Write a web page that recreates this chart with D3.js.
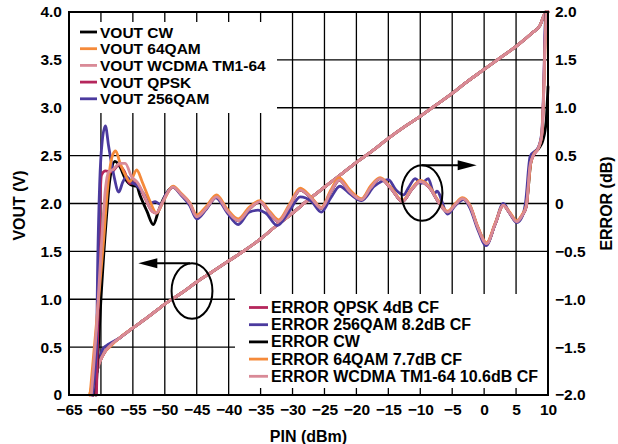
<!DOCTYPE html>
<html>
<head>
<meta charset="utf-8">
<script src="https://cdn.jsdelivr.net/npm/d3@7"></script>
<style>
  html, body { margin: 0; padding: 0; background: #fff; }
  svg { display: block; }
  text { font-family: "Liberation Sans", Arial, sans-serif; font-weight: bold; fill: #000; }
</style>
</head>
<body>
<svg id="chart" width="618" height="444"></svg>
<script>
// ---- Axis ticks ----
const xTicks = [-65, -60, -55, -50, -45, -40, -35, -30, -25, -20, -15, -10, -5, 0, 5, 10];
const voutTicks = [0, 0.5, 1.0, 1.5, 2.0, 2.5, 3.0, 3.5, 4.0];
const errTicks = [-2.0, -1.5, -1.0, -0.5, 0, 0.5, 1.0, 1.5, 2.0];

// ---- VOUT (V) vs PIN (dBm) ----
const voutCommon = [[-57, 0.60], [-55, 0.70], [-52.5, 0.82], [-50, 0.95], [-47.5, 1.06], [-45, 1.18],
  [-42.5, 1.29], [-40, 1.40], [-37.5, 1.51], [-35, 1.63], [-32.5, 1.77], [-30, 1.90], [-27.5, 2.04],
  [-25, 2.17], [-22.5, 2.30], [-20, 2.43], [-17.5, 2.55], [-15, 2.68], [-12.5, 2.80], [-10, 2.91],
  [-7.5, 3.03], [-5, 3.15], [-2.5, 3.28], [0, 3.40], [2.5, 3.52], [5, 3.64], [7.5, 3.78],
  [8.75, 3.86], [9.5, 3.98], [10, 4.0]];
const voutCW = [[-61.2, 0], [-60.6, 0.25], [-60.1, 0.36], [-59.3, 0.46], [-58.5, 0.52]].concat(voutCommon);
const voutQPSK = [[-61.2, 0], [-60.6, 0.26], [-60.1, 0.36], [-59.3, 0.46], [-58.5, 0.52]].concat(voutCommon);
const vout256QAM = [[-61.3, 0], [-60.6, 0.25], [-60.2, 0.38], [-59.6, 0.49], [-58.8, 0.53]].concat(voutCommon);
const vout64QAM = [[-61.8, 0], [-61.0, 0.20], [-60.3, 0.33], [-59.5, 0.44], [-58.5, 0.51]].concat(voutCommon);
const voutWCDMA = [[-61.5, 0], [-60.9, 0.18], [-60.2, 0.34], [-59.4, 0.45], [-58.5, 0.52]].concat(voutCommon);

// ---- ERROR (dB) vs PIN (dBm) ----
const errCommon = [[-46.1, 0.00], [-45.0, -0.14], [-43.5, -0.05], [-41.9, 0.07], [-40.2, -0.08],
  [-38.5, -0.18], [-36.8, -0.06], [-35.1, 0.02], [-33.6, -0.10], [-32.2, -0.19], [-30.5, -0.03],
  [-28.8, 0.14], [-27.0, 0.05], [-25.5, -0.05], [-24.0, 0.12], [-22.7, 0.245], [-21.0, 0.12],
  [-19.2, 0.04], [-17.8, 0.16], [-16.3, 0.26], [-14.5, 0.15], [-12.8, 0.02], [-11.3, 0.15],
  [-10.0, 0.23], [-8.5, 0.16], [-7.2, 0.02], [-5.7, -0.09], [-4.5, -0.01], [-3.4, 0.05],
  [-2.2, -0.03], [-1.0, -0.25], [0.4, -0.42], [1.7, -0.22], [3.0, -0.02], [4.0, -0.10],
  [5.1, -0.19], [6.0, -0.12], [6.6, -0.03]];
const errCW = [[-60.8, -2.0], [-60.0, -1.0], [-59.2, -0.2], [-58.6, 0.25], [-57.8, 0.44], [-57.0, 0.38],
  [-56.2, 0.26], [-55.2, 0.19], [-54.4, 0.18], [-53.9, 0.09], [-52.8, -0.08], [-51.8, -0.22],
  [-51.0, -0.08], [-50.2, 0.05], [-48.7, 0.17], [-47.5, 0.10]]
  .concat(errCommon, [[7.3, 0.42], [7.8, 0.52], [8.6, 0.58], [9.2, 0.66], [9.7, 0.85], [10.0, 1.22]]);
const errQPSK = [[-60.7, -2.0], [-60.4, -1.0], [-60.15, 0.0], [-59.9, 0.30], [-59.3, 0.34], [-58.4, 0.33],
  [-57.2, 0.40], [-56.3, 0.33], [-55.5, 0.21], [-54.5, 0.22], [-53.2, 0.07], [-52.0, -0.08],
  [-51.3, -0.10], [-50.3, 0.02], [-49.5, 0.12], [-48.7, 0.17], [-47.5, 0.10]]
  .concat(errCommon, [[7.2, 0.40], [7.7, 0.50], [8.5, 0.58], [9.0, 0.70], [9.3, 1.1], [9.5, 1.7], [9.7, 2.0]]);
const err256QAM = [[-61.4, -2.0], [-60.7, -1.5], [-60.5, -0.6], [-60.2, 0.2], [-59.8, 0.65], [-59.3, 0.81],
  [-58.8, 0.60], [-58.0, 0.30], [-57.2, 0.12], [-56.6, 0.22], [-56.0, 0.28], [-55.2, 0.22], [-54.4, 0.19],
  [-53.3, 0.10], [-52.3, 0.00], [-51.5, 0.02], [-50.7, -0.01], [-49.8, 0.10], [-48.7, 0.17], [-47.5, 0.09],
  [-46.1, -0.02], [-45.0, -0.16], [-43.5, -0.06], [-42.0, 0.06], [-40.2, -0.10], [-38.5, -0.22],
  [-36.8, -0.09], [-35.4, -0.07], [-34.2, -0.10], [-32.4, -0.23], [-30.5, -0.08], [-28.8, 0.07],
  [-27.0, 0.02], [-25.5, -0.09], [-24.0, 0.06], [-22.6, 0.18], [-21.0, 0.10], [-19.2, 0.03],
  [-17.2, 0.18], [-15.0, 0.25], [-13.8, 0.14], [-12.6, 0.09], [-11.8, 0.17], [-10.8, 0.26],
  [-9.8, 0.21], [-8.75, 0.26], [-7.8, 0.10], [-7.4, 0.13], [-5.7, -0.11], [-4.5, -0.02], [-3.2, 0.04],
  [-2.2, -0.05], [-1.0, -0.27], [0.3, -0.44], [1.7, -0.22], [3.0, 0.00], [4.0, -0.10], [5.1, -0.20],
  [6.0, -0.13], [6.5, 0.02], [7.2, 0.49], [8.5, 0.59], [9.0, 0.73], [9.4, 1.4], [9.6, 2.0]];
const err64QAM = [[-61.7, -2.0], [-60.5, -1.1], [-59.6, -0.4], [-58.9, 0.2], [-58.2, 0.5], [-57.7, 0.55],
  [-57.0, 0.42], [-56.2, 0.30], [-55.45, 0.23], [-54.4, 0.35], [-53.5, 0.22], [-52.3, 0.02],
  [-51.3, -0.10], [-50.2, 0.03], [-48.7, 0.18], [-47.5, 0.11], [-46.1, 0.01], [-45.0, -0.12],
  [-43.5, -0.03], [-41.9, 0.09], [-40.2, -0.06], [-38.5, -0.16], [-36.8, -0.04], [-35.1, 0.03],
  [-33.6, -0.08], [-32.2, -0.17], [-30.5, -0.01], [-28.8, 0.16], [-27.0, 0.06], [-25.5, -0.04],
  [-24.0, 0.14], [-22.7, 0.27], [-21.0, 0.14], [-19.2, 0.05], [-17.8, 0.18], [-16.3, 0.27],
  [-14.5, 0.16], [-12.8, 0.03], [-11.3, 0.16], [-10.0, 0.24], [-8.5, 0.17], [-7.2, 0.03],
  [-5.7, -0.08], [-4.5, 0.00], [-3.4, 0.06], [-2.2, -0.02], [-1.0, -0.24], [0.4, -0.41],
  [1.7, -0.21], [3.0, -0.02], [4.0, -0.09], [5.1, -0.18], [6.0, -0.11], [6.6, -0.02], [7.3, 0.42],
  [7.8, 0.52], [8.5, 0.58], [9.0, 0.70], [9.4, 1.3], [9.7, 2.0]];
const errWCDMA = [[-61.5, -2.0], [-60.6, -1.2], [-59.9, -0.4], [-59.3, 0.15], [-58.8, 0.33], [-58.0, 0.36],
  [-57.1, 0.42], [-56.2, 0.42], [-55.2, 0.28], [-54.3, 0.22], [-53.2, 0.08], [-52.2, -0.06],
  [-51.4, -0.10], [-50.3, 0.02], [-49.5, 0.12], [-48.7, 0.17], [-47.5, 0.10]]
  .concat(errCommon, [[7.2, 0.40], [7.7, 0.50], [8.5, 0.58], [9.0, 0.70], [9.3, 1.1], [9.55, 1.7], [9.8, 2.0]]);

const colors = { cw: "#000000", qam64: "#f58a3a", wcdma: "#d98a97", qpsk: "#b5265c", qam256: "#4b3a9e" };

const voutLegend = [
  { label: "VOUT CW", color: colors.cw },
  { label: "VOUT 64QAM", color: colors.qam64 },
  { label: "VOUT WCDMA TM1-64", color: colors.wcdma },
  { label: "VOUT QPSK", color: colors.qpsk },
  { label: "VOUT 256QAM", color: colors.qam256 }
];
const errLegend = [
  { label: "ERROR QPSK 4dB CF", color: colors.qpsk },
  { label: "ERROR 256QAM 8.2dB CF", color: colors.qam256 },
  { label: "ERROR CW", color: colors.cw },
  { label: "ERROR 64QAM 7.7dB CF", color: colors.qam64 },
  { label: "ERROR WCDMA TM1-64 10.6dB CF", color: colors.wcdma }
];

// ---- Layout ----
const W = 618, H = 444;
const plotL = 69, plotR = 548, plotT = 12, plotB = 395;

const svg = d3.select("#chart");
svg.append("rect").attr("width", W).attr("height", H).attr("fill", "#fff");

const x = d3.scaleLinear().domain([-65, 10]).range([plotL, plotR]);
const yV = d3.scaleLinear().domain([0, 4]).range([plotB, plotT]);
const yE = d3.scaleLinear().domain([-2, 2]).range([plotB, plotT]);

// grid
const grid = svg.append("g").attr("stroke", "#000").attr("stroke-width", 1.3);
grid.selectAll("line.v").data(xTicks.slice(1, -1)).join("line").attr("class", "v")
  .attr("x1", d => x(d)).attr("x2", d => x(d)).attr("y1", plotT).attr("y2", plotB);
grid.selectAll("line.h").data(voutTicks.slice(1, -1)).join("line").attr("class", "h")
  .attr("y1", d => yV(d)).attr("y2", d => yV(d)).attr("x1", plotL).attr("x2", plotR);

// legend panels (white, over the grid)
const legTop = { x0: plotL + 1, y0: 22, x1: 277, y1: 113 };
const legBot = { x0: 235, y0: 294, x1: plotR - 1, y1: 388 };
[legTop, legBot].forEach(b => svg.append("rect")
  .attr("x", b.x0).attr("y", b.y0).attr("width", b.x1 - b.x0).attr("height", b.y1 - b.y0)
  .attr("fill", "#fff"));

// curves
const lineV = d3.line().x(d => x(d[0])).y(d => yV(d[1])).curve(d3.curveMonotoneX);
const lineE = d3.line().x(d => x(d[0])).y(d => yE(d[1])).curve(d3.curveMonotoneX);
const plot = svg.append("g").attr("fill", "none").attr("stroke-width", 2.8)
  .attr("stroke-linejoin", "round").attr("stroke-linecap", "round");

const voutSeries = [[voutCW, colors.cw], [voutQPSK, colors.qpsk], [vout256QAM, colors.qam256],
  [vout64QAM, colors.qam64], [voutWCDMA, colors.wcdma]];
const errSeries = [[errCW, colors.cw], [errQPSK, colors.qpsk], [err256QAM, colors.qam256],
  [err64QAM, colors.qam64], [errWCDMA, colors.wcdma]];
voutSeries.forEach(([d, c]) => plot.append("path").attr("d", lineV(d)).attr("stroke", c));
errSeries.forEach(([d, c]) => plot.append("path").attr("d", lineE(d)).attr("stroke", c));

// annotations: ellipses with arrows pointing to the relevant axis
const ann = svg.append("g").attr("stroke", "#000").attr("stroke-width", 2).attr("fill", "none");
function ellipse(cxv, cyv, rxv, ryv, yScale) {
  ann.append("ellipse").attr("cx", x(cxv)).attr("cy", yScale(cyv))
    .attr("rx", x(cxv + rxv) - x(cxv)).attr("ry", yScale(cyv) - yScale(cyv + ryv));
}
function arrow(x0, x1, yv, yScale) {
  const px0 = x(x0), px1 = x(x1), py = yScale(yv), dir = Math.sign(px1 - px0);
  ann.append("line").attr("x1", px0).attr("y1", py).attr("x2", px1 - dir * 16).attr("y2", py);
  svg.append("path").attr("fill", "#000")
    .attr("d", `M${px1},${py}L${px1 - dir * 19},${py - 5}L${px1 - dir * 19},${py + 5}Z`);
}
ellipse(-45.74, 1.086, 3.2, 0.29, yV);
arrow(-46.06, -54.15, 1.375, yV);
ellipse(-9.73, 0.11, 3.2, 0.29, yE);
arrow(-9.78, -1.17, 0.40, yE);

// frame
svg.append("rect").attr("x", plotL).attr("y", plotT).attr("width", plotR - plotL).attr("height", plotB - plotT)
  .attr("fill", "none").attr("stroke", "#000").attr("stroke-width", 2);

// axes
const fmtY = d => d === 0 ? "0" : d3.format(".1f")(d);
const styleAxis = g => {
  g.select(".domain").remove();
  g.selectAll("text").style("font-size", "15.5px").style("font-weight", "bold")
    .style("font-family", "'Liberation Sans', Arial, sans-serif").attr("fill", "#000");
};
svg.append("g").attr("transform", `translate(0,${plotB})`)
  .call(d3.axisBottom(x).tickValues(xTicks).tickSize(0).tickPadding(9).tickFormat(d3.format("d")))
  .call(styleAxis);
svg.append("g").attr("transform", `translate(${plotL},0)`)
  .call(d3.axisLeft(yV).tickValues(voutTicks).tickSize(0).tickPadding(7).tickFormat(fmtY))
  .call(styleAxis);
svg.append("g").attr("transform", `translate(${plotR},0)`)
  .call(d3.axisRight(yE).tickValues(errTicks).tickSize(0).tickPadding(7).tickFormat(fmtY))
  .call(styleAxis);

// axis titles
svg.append("text").attr("x", (plotL + plotR) / 2).attr("y", 442).attr("text-anchor", "middle")
  .style("font-size", "16px").text("PIN (dBm)");
svg.append("text").attr("transform", `translate(25,${(plotT + plotB) / 2 + 2}) rotate(-90)`)
  .attr("text-anchor", "middle").style("font-size", "16px").text("VOUT (V)");
svg.append("text").attr("transform", `translate(612,${(plotT + plotB) / 2}) rotate(-90)`)
  .attr("text-anchor", "middle").style("font-size", "16px").text("ERROR (dB)");

// legends
function legend(items, x0, y0, dy, lineLen, fontSize) {
  const g = svg.append("g");
  items.forEach((it, i) => {
    const yy = y0 + i * dy;
    g.append("line").attr("x1", x0).attr("x2", x0 + lineLen).attr("y1", yy).attr("y2", yy)
      .attr("stroke", it.color).attr("stroke-width", 2.8);
    g.append("text").attr("x", x0 + lineLen + 3).attr("y", yy + 5.5)
      .style("font-size", fontSize + "px").text(it.label);
  });
}
legend(voutLegend, 80, 32, 16.7, 17, 15.5);
legend(errLegend, 249, 307.5, 17.2, 19, 16);
</script>
</body>
</html>
